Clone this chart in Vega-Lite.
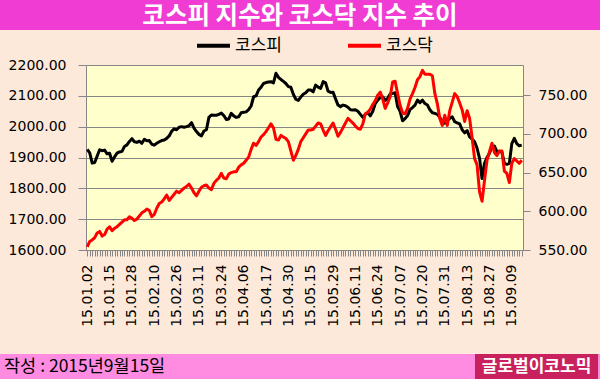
{
"$schema": "https://vega.github.io/schema/vega-lite/v6.json",
"background": "#FDE9D9",
"padding": 0,
"bounds": "flush",
"spacing": 0,
"columns": 2,
"config": {"view": {"stroke": null}},
"resolve": {"scale": {"color": "independent"}, "legend": {"color": "independent"}},
"concat": [
{"width": 86, "height": 30, "view": {"fill": "#F03CD2", "stroke": null}, "data": {"values": [{}]}, "mark": {"type": "point", "opacity": 0}, "encoding": {}},
{"width": 514, "height": 30, "view": {"fill": "#F03CD2", "stroke": null},
"data": {"values": [{"t": "코스피 지수와 코스닥 지수 추이"}]},
"mark": {"type": "text", "align": "center", "baseline": "middle", "dy": 2, "font": "Noto Sans CJK KR", "fontWeight": "bold", "fontSize": 24.5, "color": "#FFFFFF"},
"encoding": {"text": {"field": "t"}, "x": {"datum": 0.4163, "type": "quantitative", "scale": {"domain": [0, 1]}, "axis": null}}},
{"width": 86, "height": 35, "data": {"values": [{}]}, "mark": {"type": "point", "opacity": 0}, "encoding": {}},
{"width": 514, "height": 35, "data": {"values": [{}]}, "mark": {"type": "point", "opacity": 0}, "encoding": {}},
{"width": 86, "height": 185, "data": {"values": [{}]}, "mark": {"type": "point", "opacity": 0}, "encoding": {}},
{
"width": 437, "height": 185,
"view": {"fill": "#FFFFCC", "stroke": null},
"data": {"values": [
{"d":"15.01.02","코스피":1926,"코스닥":554},
{"d":"15.01.05","코스피":1915,"코스닥":561},
{"d":"15.01.06","코스피":1882,"코스닥":563},
{"d":"15.01.07","코스피":1884,"코스닥":566},
{"d":"15.01.08","코스피":1905,"코스닥":572},
{"d":"15.01.09","코스피":1925,"코스닥":574},
{"d":"15.01.12","코스피":1922,"코스닥":568},
{"d":"15.01.13","코스피":1924,"코스닥":570},
{"d":"15.01.14","코스피":1912,"코스닥":577},
{"d":"15.01.15","코스피":1914,"코스닥":580},
{"d":"15.01.16","코스피":1888,"코스닥":575},
{"d":"15.01.19","코스피":1902,"코스닥":578},
{"d":"15.01.20","코스피":1914,"코스닥":580},
{"d":"15.01.21","코스피":1918,"코스닥":583},
{"d":"15.01.22","코스피":1920,"코스닥":586},
{"d":"15.01.23","코스피":1936,"코스닥":589},
{"d":"15.01.26","코스피":1941,"코스닥":589},
{"d":"15.01.27","코스피":1952,"코스닥":593},
{"d":"15.01.28","코스피":1961,"코스닥":591},
{"d":"15.01.29","코스피":1951,"코스닥":588},
{"d":"15.01.30","코스피":1949,"코스닥":590},
{"d":"15.02.02","코스피":1953,"코스닥":594},
{"d":"15.02.03","코스피":1946,"코스닥":598},
{"d":"15.02.04","코스피":1959,"코스닥":600},
{"d":"15.02.05","코스피":1954,"코스닥":603},
{"d":"15.02.06","코스피":1955,"코스닥":601},
{"d":"15.02.09","코스피":1943,"코스닥":593},
{"d":"15.02.10","코스피":1940,"코스닥":596},
{"d":"15.02.11","코스피":1946,"코스닥":604},
{"d":"15.02.12","코스피":1951,"코스닥":610},
{"d":"15.02.13","코스피":1955,"코스닥":612},
{"d":"15.02.16","코스피":1957,"코스닥":616},
{"d":"15.02.17","코스피":1962,"코스닥":621},
{"d":"15.02.23","코스피":1970,"코스닥":614},
{"d":"15.02.24","코스피":1985,"코스닥":618},
{"d":"15.02.25","코스피":1993,"코스닥":622},
{"d":"15.02.26","코스피":1990,"코스닥":626},
{"d":"15.02.27","코스피":1998,"코스닥":624},
{"d":"15.03.02","코스피":2000,"코스닥":627},
{"d":"15.03.03","코스피":1998,"코스닥":630},
{"d":"15.03.04","코스피":2000,"코스닥":632},
{"d":"15.03.05","코스피":2003,"코스닥":635},
{"d":"15.03.06","코스피":2013,"코스닥":630},
{"d":"15.03.09","코스피":1995,"코스닥":624},
{"d":"15.03.10","코스피":1984,"코스닥":620},
{"d":"15.03.11","코스피":1975,"코스닥":626},
{"d":"15.03.12","코스피":1970,"코스닥":631},
{"d":"15.03.13","코스피":1986,"코스닥":633},
{"d":"15.03.16","코스피":1990,"코스닥":634},
{"d":"15.03.17","코스피":2030,"코스닥":630},
{"d":"15.03.18","코스피":2038,"코스닥":628},
{"d":"15.03.19","코스피":2037,"코스닥":636},
{"d":"15.03.20","코스피":2037,"코스닥":640},
{"d":"15.03.23","코스피":2040,"코스닥":643},
{"d":"15.03.24","코스피":2044,"코스닥":649},
{"d":"15.03.25","코스피":2036,"코스닥":643},
{"d":"15.03.26","코스피":2023,"코스닥":642},
{"d":"15.03.27","코스피":2025,"코스닥":648},
{"d":"15.03.30","코스피":2043,"코스닥":650},
{"d":"15.03.31","코스피":2035,"코스닥":651},
{"d":"15.04.01","코스피":2030,"코스닥":651},
{"d":"15.04.02","코스피":2032,"코스닥":657},
{"d":"15.04.03","코스피":2045,"코스닥":660},
{"d":"15.04.06","코스피":2047,"코스닥":662},
{"d":"15.04.07","코스피":2048,"코스닥":666},
{"d":"15.04.08","코스피":2055,"코스닥":670},
{"d":"15.04.09","코스피":2067,"코스닥":680},
{"d":"15.04.10","코스피":2097,"코스닥":688},
{"d":"15.04.13","코스피":2100,"코스닥":685},
{"d":"15.04.14","코스피":2119,"코스닥":690},
{"d":"15.04.15","코스피":2128,"코스닥":696},
{"d":"15.04.16","코스피":2140,"코스닥":699},
{"d":"15.04.17","코스피":2143,"코스닥":703},
{"d":"15.04.20","코스피":2145,"코스닥":708},
{"d":"15.04.21","코스피":2146,"코스닥":713},
{"d":"15.04.22","코스피":2142,"코스닥":708},
{"d":"15.04.23","코스피":2173,"코스닥":693},
{"d":"15.04.24","코스피":2160,"코스닥":692},
{"d":"15.04.27","코스피":2153,"코스닥":698},
{"d":"15.04.28","코스피":2147,"코스닥":696},
{"d":"15.04.29","코스피":2140,"코스닥":694},
{"d":"15.04.30","코스피":2130,"코스닥":690},
{"d":"15.05.04","코스피":2128,"코스닥":678},
{"d":"15.05.06","코스피":2105,"코스닥":666},
{"d":"15.05.07","코스피":2089,"코스닥":672},
{"d":"15.05.08","코스피":2085,"코스닥":680},
{"d":"15.05.11","코스피":2096,"코스닥":690},
{"d":"15.05.12","코스피":2105,"코스닥":695},
{"d":"15.05.13","코스피":2110,"코스닥":700},
{"d":"15.05.14","코스피":2119,"코스닥":705},
{"d":"15.05.15","코스피":2119,"코스닥":705},
{"d":"15.05.18","코스피":2113,"코스닥":706},
{"d":"15.05.19","코스피":2135,"코스닥":710},
{"d":"15.05.20","코스피":2128,"코스닥":714},
{"d":"15.05.21","코스피":2124,"코스닥":713},
{"d":"15.05.22","코스피":2146,"코스닥":705},
{"d":"15.05.26","코스피":2142,"코스닥":698},
{"d":"15.05.27","코스피":2115,"코스닥":704},
{"d":"15.05.28","코스피":2111,"코스닥":709},
{"d":"15.05.29","코스피":2112,"코스닥":714},
{"d":"15.06.01","코스피":2090,"코스닥":706},
{"d":"15.06.02","코스피":2070,"코스닥":697},
{"d":"15.06.03","코스피":2065,"코스닥":702},
{"d":"15.06.04","코스피":2070,"코스닥":708},
{"d":"15.06.05","코스피":2068,"코스닥":714},
{"d":"15.06.08","코스피":2063,"코스닥":720},
{"d":"15.06.09","코스피":2055,"코스닥":717},
{"d":"15.06.10","코스피":2054,"코스닥":714},
{"d":"15.06.11","코스피":2055,"코스닥":710},
{"d":"15.06.12","코스피":2050,"코스닥":707},
{"d":"15.06.15","코스피":2040,"코스닥":706},
{"d":"15.06.16","코스피":2030,"코스닥":713},
{"d":"15.06.17","코스피":2040,"코스닥":726},
{"d":"15.06.18","코스피":2045,"코스닥":728},
{"d":"15.06.19","코스피":2035,"코스닥":732},
{"d":"15.06.22","코스피":2050,"코스닥":738},
{"d":"15.06.23","코스피":2075,"코스닥":743},
{"d":"15.06.24","코스피":2086,"코스닥":750},
{"d":"15.06.25","코스피":2095,"코스닥":754},
{"d":"15.06.26","코스피":2097,"코스닥":745},
{"d":"15.06.29","코스피":2085,"코스닥":733},
{"d":"15.06.30","코스피":2092,"코스닥":740},
{"d":"15.07.01","코스피":2106,"코스닥":748},
{"d":"15.07.02","코스피":2108,"코스닥":767},
{"d":"15.07.03","코스피":2110,"코스닥":768},
{"d":"15.07.06","코스피":2065,"코스닥":752},
{"d":"15.07.07","코스피":2050,"코스닥":737},
{"d":"15.07.08","코스피":2019,"코스닥":727},
{"d":"15.07.09","코스피":2026,"코스닥":726},
{"d":"15.07.10","코스피":2036,"코스닥":733},
{"d":"15.07.13","코스피":2055,"코스닥":745},
{"d":"15.07.14","코스피":2062,"코스닥":752},
{"d":"15.07.15","코스피":2070,"코스닥":760},
{"d":"15.07.16","코스피":2086,"코스닥":770},
{"d":"15.07.17","코스피":2078,"코스닥":774},
{"d":"15.07.20","코스피":2086,"코스닥":782},
{"d":"15.07.21","코스피":2075,"코스닥":777},
{"d":"15.07.22","코스피":2070,"코스닥":777},
{"d":"15.07.23","코스피":2055,"코스닥":777},
{"d":"15.07.24","코스피":2045,"코스닥":775},
{"d":"15.07.27","코스피":2043,"코스닥":752},
{"d":"15.07.28","코스피":2040,"코스닥":739},
{"d":"15.07.29","코스피":2030,"코스닥":720},
{"d":"15.07.30","코스피":2016,"코스닥":711},
{"d":"15.07.31","코스피":2011,"코스닥":724},
{"d":"15.08.03","코스피":2019,"코스닥":711},
{"d":"15.08.04","코스피":2027,"코스닥":730},
{"d":"15.08.05","코스피":2032,"코스닥":741},
{"d":"15.08.06","코스피":2016,"코스닥":752},
{"d":"15.08.07","코스피":2012,"코스닥":748},
{"d":"15.08.10","코스피":2009,"코스닥":740},
{"d":"15.08.11","코스피":1990,"코스닥":731},
{"d":"15.08.12","코스피":1980,"코스닥":716},
{"d":"15.08.13","코스피":1987,"코스닥":730},
{"d":"15.08.17","코스피":1967,"코스닥":720},
{"d":"15.08.18","코스피":1960,"코스닥":695},
{"d":"15.08.19","코스피":1951,"코스닥":668},
{"d":"15.08.20","코스피":1930,"코스닥":660},
{"d":"15.08.21","코스피":1897,"코스닥":625},
{"d":"15.08.24","코스피":1832,"코스닥":613},
{"d":"15.08.25","코스피":1881,"코스닥":640},
{"d":"15.08.26","코스피":1900,"코스닥":666},
{"d":"15.08.27","코스피":1914,"코스닥":677},
{"d":"15.08.28","코스피":1935,"코스닥":688},
{"d":"15.08.31","코스피":1937,"코스닥":676},
{"d":"15.09.01","코스피":1919,"코스닥":672},
{"d":"15.09.02","코스피":1920,"코스닥":678},
{"d":"15.09.03","코스피":1918,"코스닥":678},
{"d":"15.09.04","코스피":1881,"코스닥":652},
{"d":"15.09.07","코스피":1878,"코스닥":649},
{"d":"15.09.08","코스피":1881,"코스닥":637},
{"d":"15.09.09","코스피":1945,"코스닥":662},
{"d":"15.09.10","코스피":1962,"코스닥":668},
{"d":"15.09.11","코스피":1945,"코스닥":665},
{"d":"15.09.14","코스피":1938,"코스닥":662},
{"d":"15.09.15","코스피":1940,"코스닥":666}
]},
"transform": [{"fold": ["코스피", "코스닥"], "as": ["series", "value"]}],
"encoding": {
"x": {"field": "d", "type": "ordinal", "sort": null, "title": null,
"scale": {"type": "point", "padding": 0.5},
"axis": {"labelAngle": 270, "labelFont": "DejaVu Sans", "labelFontSize": 14, "labelColor": "#000000", "labelOverlap": false, "labelBound": false, "labelPadding": 8, "tickSize": 6, "tickColor": "#868686", "domainColor": "#868686", "grid": false,
"labelExpr": "indexof(['15.01.02','15.01.15','15.01.28','15.02.10','15.02.26','15.03.11','15.03.24','15.04.06','15.04.17','15.04.30','15.05.15','15.05.29','15.06.11','15.06.24','15.07.07','15.07.20','15.07.31','15.08.13','15.08.27','15.09.09'], datum.label) >= 0 ? datum.label : ''"}},
"color": {"field": "series", "type": "nominal",
"scale": {"domain": ["코스피", "코스닥"], "range": ["#000000", "#FF0000"]},
"legend": {"orient": "none", "legendX": 109, "legendY": -38, "direction": "horizontal", "title": null, "symbolType": "stroke", "symbolSize": 1089, "symbolStrokeWidth": 4, "labelFont": "Noto Sans CJK KR", "labelFontSize": 17, "labelColor": "#000000", "labelOffset": 3, "columnPadding": 58, "padding": 0}}
},
"layer": [
{"transform": [{"filter": "datum.series === '코스피'"}],
"mark": {"type": "line", "strokeWidth": 3, "strokeJoin": "round"},
"encoding": {"y": {"field": "value", "type": "quantitative", "title": null,
"scale": {"domain": [1600, 2200], "nice": false, "zero": false},
"axis": {"orient": "left", "values": [1600, 1700, 1800, 1900, 2000, 2100, 2200], "format": ".2f", "labelFont": "DejaVu Sans", "labelFontSize": 14, "labelColor": "#000000", "tickSize": 8, "labelPadding": 12, "tickColor": "#868686", "domainColor": "#868686", "grid": true, "gridColor": "#868686", "gridOpacity": 1}}}},
{"transform": [{"filter": "datum.series === '코스닥'"}],
"mark": {"type": "line", "strokeWidth": 3, "strokeJoin": "round"},
"encoding": {"y": {"field": "value", "type": "quantitative", "title": null,
"scale": {"domain": [550, 789], "nice": false, "zero": false},
"axis": {"orient": "right", "values": [550, 600, 650, 700, 750], "format": ".2f", "labelFont": "DejaVu Sans", "labelFontSize": 14, "labelColor": "#000000", "tickSize": 7, "labelPadding": 8, "tickColor": "#868686", "domainColor": "#868686", "grid": false}}}}
],
"resolve": {"scale": {"y": "independent"}}
},
{"width": 86, "height": 104, "data": {"values": [{}]}, "mark": {"type": "point", "opacity": 0}, "encoding": {}},
{"width": 514, "height": 104, "data": {"values": [{}]}, "mark": {"type": "point", "opacity": 0}, "encoding": {}},
{"width": 86, "height": 25, "view": {"fill": "#FF8CE1", "stroke": null}, "data": {"values": [{}]}, "mark": {"type": "point", "opacity": 0}, "encoding": {}},
{"width": 514, "height": 25, "view": {"fill": "#FF8CE1", "stroke": null},
"data": {"values": [{"a": "작성 : 2015년9월15일", "b": "글로벌이코노믹"}]},
"layer": [
{"mark": {"type": "rect", "color": "#C8215E"},
"encoding": {"x": {"datum": 0.7568, "type": "quantitative", "scale": {"domain": [0, 1]}, "axis": null}, "x2": {"datum": 0.9961}}},
{"mark": {"type": "text", "align": "left", "font": "Noto Sans CJK KR", "fontSize": 17.5, "color": "#000000"},
"encoding": {"text": {"field": "a"}, "x": {"datum": -0.1595, "type": "quantitative"}}},
{"mark": {"type": "text", "align": "center", "font": "Noto Sans CJK KR", "fontWeight": "bold", "fontSize": 17, "color": "#FFFFFF"},
"encoding": {"text": {"field": "b"}, "x": {"datum": 0.8765, "type": "quantitative"}}}
]
}
]
}
